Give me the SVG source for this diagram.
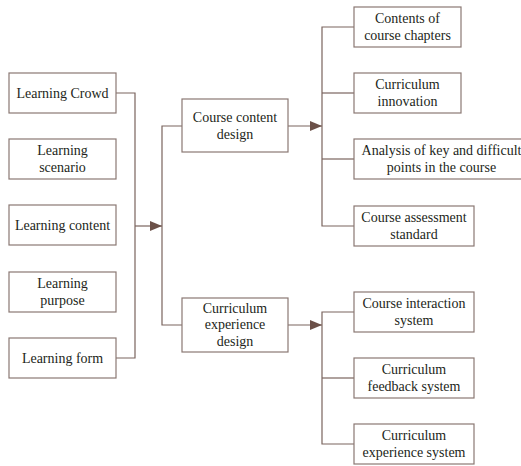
<svg xmlns="http://www.w3.org/2000/svg" width="521" height="466" viewBox="0 0 521 466">
<defs>
<marker id="ah" viewBox="0 0 12 10" refX="12" refY="5" markerWidth="12" markerHeight="10" markerUnits="userSpaceOnUse" orient="auto">
<path d="M0,0 L12,5 L0,10 Z" fill="#6b5048"/>
</marker>
</defs>
<rect width="521" height="466" fill="#ffffff"/>
<g id="connectors" fill="none" stroke="#7a645e" stroke-width="1.2">
<polyline points="116,93 135,93 135,358 116,358"/>
<line x1="135" y1="226" x2="162" y2="226" marker-end="url(#ah)"/>
<polyline points="182,126 162,126 162,325 182,325"/>
<line x1="288" y1="126" x2="322" y2="126" marker-end="url(#ah)"/>
<line x1="288" y1="325" x2="322" y2="325" marker-end="url(#ah)"/>
<polyline points="354,27 322,27 322,226 354,226"/>
<line x1="322" y1="93" x2="354" y2="93"/>
<line x1="322" y1="159" x2="354" y2="159"/>
<polyline points="354,312 322,312 322,444 354,444"/>
<line x1="322" y1="378" x2="354" y2="378"/>
</g>
<g id="boxes" fill="#ffffff" stroke="#8a7873" stroke-width="1.2">
<rect id="learning-crowd" x="9" y="73" width="107" height="40"/>
<rect id="learning-scenario" x="9" y="139" width="107" height="40"/>
<rect id="learning-content" x="9" y="205" width="107" height="40"/>
<rect id="learning-purpose" x="9" y="272" width="107" height="40"/>
<rect id="learning-form" x="9" y="338" width="107" height="40"/>
<rect id="course-content-design" x="182" y="99" width="106" height="53"/>
<rect id="curriculum-experience-design" x="182" y="298" width="106" height="54"/>
<rect id="contents-of-course-chapters" x="354" y="7" width="107" height="40"/>
<rect id="curriculum-innovation" x="354" y="73" width="107" height="40"/>
<rect id="analysis" x="354" y="139" width="175" height="40"/>
<rect id="course-assessment-standard" x="354" y="206" width="120" height="40"/>
<rect id="course-interaction-system" x="354" y="292" width="120" height="40"/>
<rect id="curriculum-feedback-system" x="354" y="358" width="120" height="40"/>
<rect id="curriculum-experience-system" x="354" y="424" width="120" height="40"/>
</g>
<g id="labels" font-family="Liberation Serif" font-size="14" fill="#231f20" text-anchor="middle">
<text x="62.5" y="97.5">Learning Crowd</text>
<text x="62.5" y="155">Learning</text><text x="62.5" y="172">scenario</text>
<text x="62.5" y="229.5">Learning content</text>
<text x="62.5" y="288">Learning</text><text x="62.5" y="305">purpose</text>
<text x="62.5" y="362.5">Learning form</text>
<text x="235" y="122">Course content</text><text x="235" y="139">design</text>
<text x="235" y="312.5">Curriculum</text><text x="235" y="329">experience</text><text x="235" y="345.5">design</text>
<text x="407.5" y="23">Contents of</text><text x="407.5" y="40">course chapters</text>
<text x="407.5" y="89">Curriculum</text><text x="407.5" y="106">innovation</text>
<text x="441.5" y="155">Analysis of key and difficult</text><text x="441.5" y="172">points in the course</text>
<text x="414" y="222">Course assessment</text><text x="414" y="239">standard</text>
<text x="414" y="308">Course interaction</text><text x="414" y="325">system</text>
<text x="414" y="374">Curriculum</text><text x="414" y="391">feedback system</text>
<text x="414" y="440">Curriculum</text><text x="414" y="457">experience system</text>
</g>
</svg>
